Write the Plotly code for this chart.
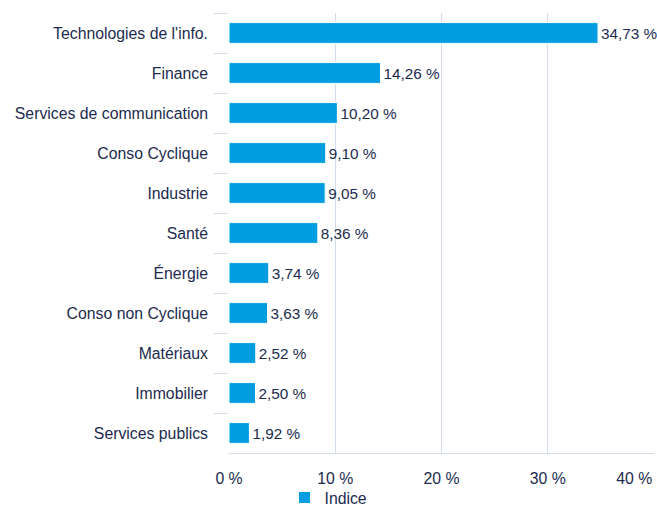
import plotly.graph_objects as go

categories = ["Technologies de l'info.", "Finance", "Services de communication",
              "Conso Cyclique", "Industrie", "Santé", "Énergie",
              "Conso non Cyclique", "Matériaux", "Immobilier", "Services publics"]
values = [34.73, 14.26, 10.20, 9.10, 9.05, 8.36, 3.74, 3.63, 2.52, 2.50, 1.92]
series_name = "Indice"
tick_vals = [0, 10, 20, 30, 40]
tick_text = ["0 %", "10 %", "20 %", "30 %", "40 %" + "\u00a0" * 9]

labels = [f"{v:.2f}".replace(".", ",") + " %" for v in values]

txt = "#1c2b4f"
grid = "#d3dcea"
font_family = "Liberation Sans, Arial, Helvetica, sans-serif"
fs = 15.8

fig = go.Figure(go.Bar(
    x=values, y=categories, orientation="h", name=series_name,
    marker=dict(color="#009de0", line=dict(color="#ffffff", width=1)),
    width=0.52,
    text=labels, textposition="outside", cliponaxis=False,
    textfont=dict(color=txt, size=15.3, family=font_family),
    showlegend=True,
))

fig.update_layout(
    width=657, height=507,
    margin=dict(l=229, r=3, t=13, b=54, autoexpand=False),
    plot_bgcolor="white", paper_bgcolor="white",
    font=dict(family=font_family, size=fs, color=txt),
    bargap=0.48,
    showlegend=True,
    legend=dict(orientation="h", xref="container", yref="paper",
                x=0.5, xanchor="center", y=-0.063, yanchor="top",
                bgcolor="rgba(0,0,0,0)",
                font=dict(size=fs, color=txt)),
)
fig.update_xaxes(range=[0, 40], tickvals=tick_vals, ticktext=tick_text,
                 showgrid=True, gridcolor=grid, gridwidth=1,
                 zeroline=False, showline=True, linecolor=grid,
                 ticks="", ticklabelstandoff=11, automargin=False,
                 ticklabeloverflow="allow",
                 tickfont=dict(size=fs, color=txt), fixedrange=True)
fig.update_yaxes(categoryorder="array", categoryarray=categories,
                 autorange="reversed", tickson="boundaries",
                 ticks="outside", ticklen=14, tickcolor=grid, tickwidth=1,
                 showline=False, showgrid=False, ticklabelstandoff=20,
                 automargin=False,
                 tickfont=dict(size=fs, color=txt))

fig.write_html("out.html", config={"displayModeBar": False},
               post_script="document.body.style.margin='0';document.body.style.padding='0';")
